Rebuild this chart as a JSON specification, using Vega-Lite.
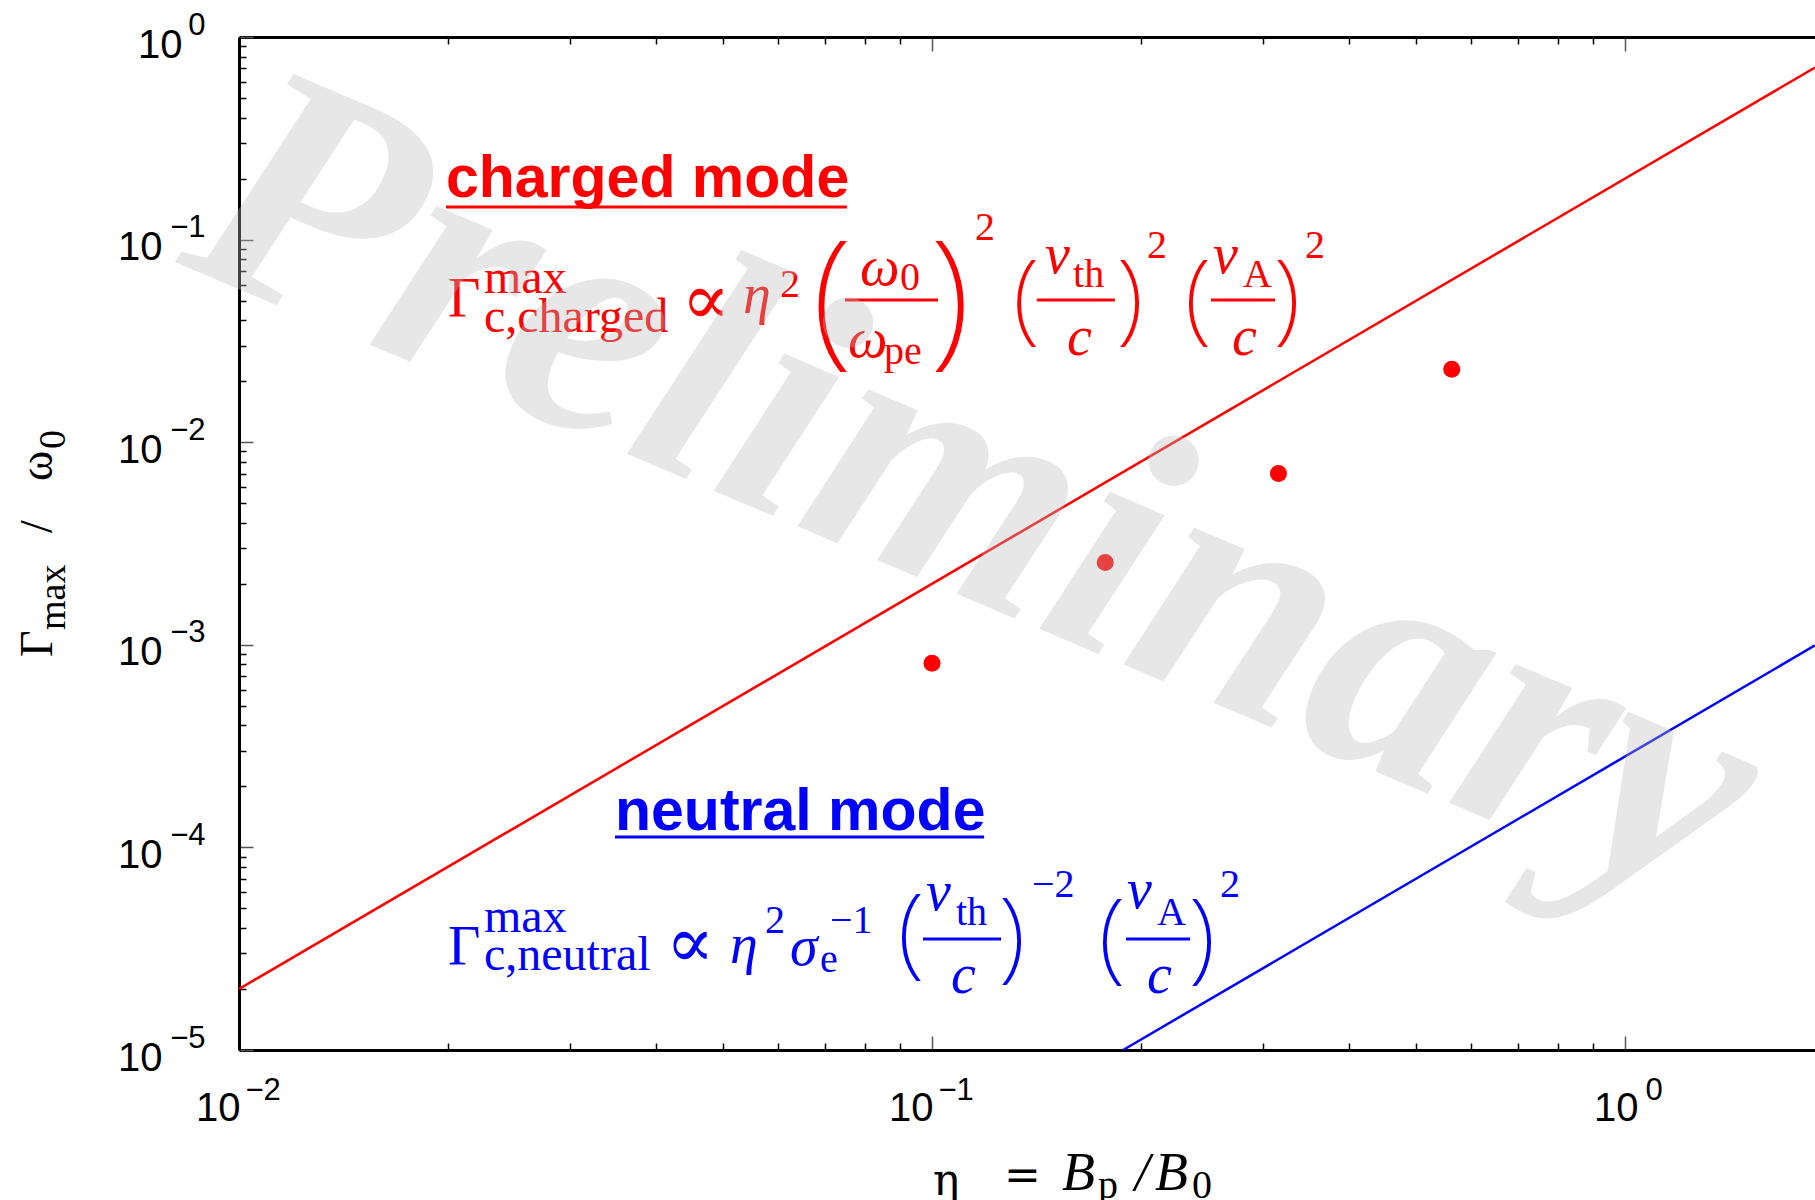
{
  "$schema": "https://vega.github.io/schema/vega-lite/v6.json",
  "width": 1576,
  "height": 1013,
  "autosize": {"type": "none"},
  "padding": {"left": 239, "top": 37, "right": 0, "bottom": 150},
  "background": "white",
  "config": {"view": {"stroke": null}},
  "resolve": {"axis": {"x": "independent", "y": "independent"}},
  "datasets": {
    "chargedLine": [{"eta": 0.01, "gamma": 0.00002}, {"eta": 1.88, "gamma": 0.707}],
    "neutralLine": [{"eta": 0.1887, "gamma": 0.00001}, {"eta": 1.88, "gamma": 0.000993}],
    "points": [
      {"eta": 0.1, "gamma": 0.00081},
      {"eta": 0.1778, "gamma": 0.00255},
      {"eta": 0.3162, "gamma": 0.0070},
      {"eta": 0.5623, "gamma": 0.0229}
    ],
    "underlines": [
      {"x": 0.01989, "x2": 0.07538, "y": 0.1448, "g": "charged"},
      {"x": 0.03488, "x2": 0.1189, "y": 0.0001125, "g": "neutral"}
    ],
    "bars": [
      {"x": 0.07489, "x2": 0.102, "y": 0.05033, "g": "charged"},
      {"x": 0.1417, "x2": 0.1836, "y": 0.05033, "g": "charged"},
      {"x": 0.2527, "x2": 0.3126, "y": 0.05033, "g": "charged"},
      {"x": 0.09705, "x2": 0.1258, "y": 0.00003531, "g": "neutral"},
      {"x": 0.1905, "x2": 0.2357, "y": 0.00003531, "g": "neutral"}
    ],
    "headings": [
      {"t": "charged mode", "x": 0.01989, "y": 0.1623, "g": "charged"},
      {"t": "neutral mode", "x": 0.03488, "y": 0.0001219, "g": "neutral"}
    ],
    "gammas": [
      {"t": "Γ", "x": 0.02002, "y": 0.0415, "g": "charged"},
      {"t": "Γ", "x": 0.02002, "y": 0.00002628, "g": "neutral"}
    ],
    "subsup": [
      {"t": "max", "x": 0.02257, "y": 0.05451, "g": "charged"},
      {"t": "c,charged", "x": 0.02257, "y": 0.03499, "g": "charged"},
      {"t": "max", "x": 0.02257, "y": 0.00003823, "g": "neutral"},
      {"t": "c,neutral", "x": 0.02257, "y": 0.00002483, "g": "neutral"}
    ],
    "small": [
      {"t": "2", "x": 0.06035, "y": 0.05207, "g": "charged"},
      {"t": "0", "x": 0.0899, "y": 0.05638, "g": "charged"},
      {"t": "pe", "x": 0.08524, "y": 0.02432, "g": "charged"},
      {"t": "2", "x": 0.1154, "y": 0.09954, "g": "charged"},
      {"t": "th", "x": 0.1598, "y": 0.05834, "g": "charged"},
      {"t": "2", "x": 0.2043, "y": 0.08111, "g": "charged"},
      {"t": "A", "x": 0.281, "y": 0.05834, "g": "charged"},
      {"t": "2", "x": 0.3453, "y": 0.08111, "g": "charged"},
      {"t": "2", "x": 0.05741, "y": 0.0000378, "g": "neutral"},
      {"t": "e", "x": 0.06894, "y": 0.00002427, "g": "neutral"},
      {"t": "−1", "x": 0.07124, "y": 0.0000378, "g": "neutral"},
      {"t": "th", "x": 0.1083, "y": 0.0000414, "g": "neutral"},
      {"t": "−2", "x": 0.1394, "y": 0.00005691, "g": "neutral"},
      {"t": "A", "x": 0.2112, "y": 0.0000414, "g": "neutral"},
      {"t": "2", "x": 0.2603, "y": 0.00005691, "g": "neutral"},
      {"t": "p", "x": 0.1736, "y": 0.00000186, "g": "axis"},
      {"t": "0", "x": 0.2372, "y": 0.00000186, "g": "axis"}
    ],
    "italic": [
      {"t": "η", "x": 0.05338, "y": 0.04342, "g": "charged"},
      {"t": "ω", "x": 0.0787, "y": 0.0597, "g": "charged"},
      {"t": "ω", "x": 0.07564, "y": 0.02634, "g": "charged"},
      {"t": "v", "x": 0.1456, "y": 0.06843, "g": "charged"},
      {"t": "c", "x": 0.1566, "y": 0.02694, "g": "charged"},
      {"t": "v", "x": 0.2543, "y": 0.06843, "g": "charged"},
      {"t": "c", "x": 0.271, "y": 0.02694, "g": "charged"},
      {"t": "η", "x": 0.0511, "y": 0.00002688, "g": "neutral"},
      {"t": "σ", "x": 0.06238, "y": 0.00002628, "g": "neutral"},
      {"t": "v", "x": 0.09802, "y": 0.00004909, "g": "neutral"},
      {"t": "c", "x": 0.1065, "y": 0.00001912, "g": "neutral"},
      {"t": "v", "x": 0.1912, "y": 0.00005022, "g": "neutral"},
      {"t": "c", "x": 0.2043, "y": 0.00001912, "g": "neutral"}
    ],
    "props": [
      {"t": "∝", "x": 0.04719, "y": 0.0492, "g": "charged"},
      {"t": "∝", "x": 0.04475, "y": 0.00003298, "g": "neutral"}
    ],
    "bigParens": [
      {"t": "(", "x": 0.07172, "y": 0.04892, "g": "charged"},
      {"t": ")", "x": 0.1062, "y": 0.04892, "g": "charged"}
    ],
    "parens": [
      {"t": "(", "x": 0.1367, "y": 0.05004, "g": "charged"},
      {"t": ")", "x": 0.1931, "y": 0.05004, "g": "charged"},
      {"t": "(", "x": 0.2419, "y": 0.05004, "g": "charged"},
      {"t": ")", "x": 0.3253, "y": 0.05004, "g": "charged"},
      {"t": "(", "x": 0.09326, "y": 0.00003695, "g": "neutral"},
      {"t": ")", "x": 0.1304, "y": 0.00003531, "g": "neutral"},
      {"t": "(", "x": 0.1818, "y": 0.0000349, "g": "neutral"},
      {"t": ")", "x": 0.2452, "y": 0.0000349, "g": "neutral"}
    ],
    "xtitleUp": [
      {"t": "η", "x": 0.1003, "y": 0.000001925, "g": "axis"},
      {"t": "=", "x": 0.127, "y": 0.000002037, "g": "axis"}
    ],
    "xtitleItalic": [
      {"t": "B", "x": 0.154, "y": 0.000002037, "g": "axis"},
      {"t": "/", "x": 0.1962, "y": 0.000002037, "g": "axis"},
      {"t": "B", "x": 0.2098, "y": 0.000002037, "g": "axis"}
    ],
    "ytitleBig": [
      {"t": "Γ", "x": 0.005373, "y": 0.0008706, "g": "axis"},
      {"t": "/", "x": 0.005373, "y": 0.003563, "g": "axis"},
      {"t": "ω", "x": 0.005373, "y": 0.006432, "g": "axis"}
    ],
    "ytitleSmall": [
      {"t": "max", "x": 0.005609, "y": 0.001183, "g": "axis"},
      {"t": "0", "x": 0.005609, "y": 0.009256, "g": "axis"}
    ],
    "watermark": [{"t": "Preliminary", "x": 0.008083, "y": 0.07752}]
  },
  "layer": [
    {
      "data": {"name": "chargedLine"},
      "mark": {"type": "line", "color": "#ff0000", "strokeWidth": 2.5},
      "encoding": {
        "x": {"field": "eta", "type": "quantitative", "scale": {"type": "log", "domain": [0.01, 1.88], "nice": false},
          "axis": {"orient": "bottom", "values": [0.01, 0.1, 1], "ticks": true, "tickSize": -14, "tickWidth": 1.5, "tickColor": "#555555", "labels": false, "domain": true, "domainColor": "#000000", "domainWidth": 3, "grid": false, "title": null}},
        "y": {"field": "gamma", "type": "quantitative", "scale": {"type": "log", "domain": [0.00001, 1], "nice": false},
          "axis": {"orient": "left", "values": [0.00001, 0.0001, 0.001, 0.01, 0.1, 1], "ticks": true, "tickSize": -14, "tickWidth": 1.5, "tickColor": "#555555", "labels": false, "domain": true, "domainColor": "#000000", "domainWidth": 3, "grid": false, "title": null}}
      }
    },
    {
      "data": {"name": "neutralLine"},
      "mark": {"type": "line", "color": "#0000ff", "strokeWidth": 2.5},
      "encoding": {
        "x": {"field": "eta", "type": "quantitative", "scale": {"type": "log", "domain": [0.01, 1.88], "nice": false},
          "axis": {"orient": "bottom", "values": [0.02, 0.03, 0.04, 0.05, 0.06, 0.07, 0.08, 0.09, 0.2, 0.3, 0.4, 0.5, 0.6, 0.7, 0.8, 0.9], "ticks": true, "tickSize": -7, "tickWidth": 1.5, "tickColor": "#000000", "labels": false, "domain": false, "grid": false, "title": null}},
        "y": {"field": "gamma", "type": "quantitative", "scale": {"type": "log", "domain": [0.00001, 1], "nice": false},
          "axis": {"orient": "left", "values": [0.00002, 0.00003, 0.00004, 0.00005, 0.00006, 0.00007, 0.00008, 0.00009, 0.0002, 0.0003, 0.0004, 0.0005, 0.0006, 0.0007, 0.0008, 0.0009, 0.002, 0.003, 0.004, 0.005, 0.006, 0.007, 0.008, 0.009, 0.02, 0.03, 0.04, 0.05, 0.06, 0.07, 0.08, 0.09, 0.2, 0.3, 0.4, 0.5, 0.6, 0.7, 0.8, 0.9], "ticks": true, "tickSize": -7, "tickWidth": 1.5, "tickColor": "#000000", "labels": false, "domain": false, "grid": false, "title": null}}
      }
    },
    {
      "data": {"name": "points"},
      "mark": {"type": "circle", "size": 290, "color": "#ff0000", "opacity": 1},
      "encoding": {
        "x": {"field": "eta", "type": "quantitative", "scale": {"type": "log", "domain": [0.01, 1.88], "nice": false},
          "axis": {"orient": "bottom", "values": [0.01, 0.1, 1], "ticks": false, "domain": false, "grid": false, "title": null, "labelExpr": "'10'", "labelFont": "Liberation Sans", "labelFontSize": 40, "labelColor": "#000000", "labelAlign": "right", "labelBaseline": "alphabetic", "labelPadding": 70, "labelOffset": {"condition": {"test": "datum.value > 0.5", "value": 13}, "value": 1}, "labelFlush": false, "labelOverlap": false, "labelBound": false}},
        "y": {"field": "gamma", "type": "quantitative", "scale": {"type": "log", "domain": [0.00001, 1], "nice": false},
          "axis": {"orient": "left", "values": [0.00001, 0.0001, 0.001, 0.01, 0.1, 1], "ticks": false, "domain": false, "grid": false, "title": null, "labelExpr": "'10'", "labelFont": "Liberation Sans", "labelFontSize": 40, "labelColor": "#000000", "labelAlign": "right", "labelBaseline": "alphabetic", "labelPadding": {"condition": {"test": "datum.value > 0.5", "value": 57}, "value": 77}, "labelOffset": 20, "labelFlush": false, "labelOverlap": false, "labelBound": false}}
      }
    },
    {
      "data": {"name": "underlines"},
      "mark": {"type": "rule", "strokeWidth": 3},
      "encoding": {
        "x": {"field": "x", "type": "quantitative", "scale": {"type": "log", "domain": [0.01, 1.88], "nice": false},
          "axis": {"orient": "bottom", "values": [0.01, 0.1, 1], "ticks": false, "domain": false, "grid": false, "title": null, "labelExpr": "datum.value >= 1 ? '0' : '−' + format(-log(datum.value)/LN10, '.0f')", "labelFont": "Liberation Sans", "labelFontSize": 31, "labelColor": "#000000", "labelAlign": "left", "labelBaseline": "alphabetic", "labelPadding": 49, "labelOffset": {"condition": {"test": "datum.value > 0.5", "value": 20}, "value": 6}, "labelFlush": false, "labelOverlap": false, "labelBound": false}},
        "x2": {"field": "x2"},
        "y": {"field": "y", "type": "quantitative", "scale": {"type": "log", "domain": [0.00001, 1], "nice": false},
          "axis": {"orient": "left", "values": [0.00001, 0.0001, 0.001, 0.01, 0.1, 1], "ticks": false, "domain": false, "grid": false, "title": null, "labelExpr": "datum.value >= 1 ? '0' : '−' + format(-log(datum.value)/LN10, '.0f')", "labelFont": "Liberation Sans", "labelFontSize": 31, "labelColor": "#000000", "labelAlign": "right", "labelBaseline": "alphabetic", "labelPadding": 34, "labelOffset": -3, "labelFlush": false, "labelOverlap": false, "labelBound": false}},
        "color": {"field": "g", "type": "nominal", "scale": {"domain": ["charged", "neutral", "axis"], "range": ["#ff0000", "#0000ff", "#000000"]}, "legend": null}
      }
    },
    {
      "data": {"name": "bars"},
      "mark": {"type": "rule", "strokeWidth": 3},
      "encoding": {
        "x": {"field": "x", "type": "quantitative", "scale": {"type": "log", "domain": [0.01, 1.88], "nice": false},
          "axis": {"orient": "top", "values": [0.01, 0.1, 1], "ticks": true, "tickSize": -14, "tickWidth": 1.5, "tickColor": "#555555", "labels": false, "domain": true, "domainColor": "#000000", "domainWidth": 3, "grid": false, "title": null}},
        "x2": {"field": "x2"},
        "y": {"field": "y", "type": "quantitative", "scale": {"type": "log", "domain": [0.00001, 1], "nice": false}, "axis": null},
        "color": {"field": "g", "type": "nominal", "scale": {"domain": ["charged", "neutral", "axis"], "range": ["#ff0000", "#0000ff", "#000000"]}, "legend": null}
      }
    },
    {
      "data": {"name": "headings"},
      "mark": {"type": "text", "font": "Liberation Sans", "fontWeight": "bold", "fontSize": 59, "align": "left", "baseline": "alphabetic"},
      "encoding": {
        "x": {"field": "x", "type": "quantitative", "scale": {"type": "log", "domain": [0.01, 1.88], "nice": false},
          "axis": {"orient": "top", "values": [0.02, 0.03, 0.04, 0.05, 0.06, 0.07, 0.08, 0.09, 0.2, 0.3, 0.4, 0.5, 0.6, 0.7, 0.8, 0.9], "ticks": true, "tickSize": -7, "tickWidth": 1.5, "tickColor": "#000000", "labels": false, "domain": false, "grid": false, "title": null}},
        "y": {"field": "y", "type": "quantitative", "scale": {"type": "log", "domain": [0.00001, 1], "nice": false}, "axis": null},
        "text": {"field": "t"},
        "color": {"field": "g", "type": "nominal", "scale": {"domain": ["charged", "neutral", "axis"], "range": ["#ff0000", "#0000ff", "#000000"]}, "legend": null}
      }
    },
    {
      "data": {"name": "gammas"},
      "mark": {"type": "text", "font": "Liberation Serif", "fontSize": 56, "align": "left", "baseline": "alphabetic"},
      "encoding": {
        "x": {"field": "x", "type": "quantitative", "scale": {"type": "log", "domain": [0.01, 1.88], "nice": false}, "axis": null},
        "y": {"field": "y", "type": "quantitative", "scale": {"type": "log", "domain": [0.00001, 1], "nice": false}, "axis": null},
        "text": {"field": "t"},
        "color": {"field": "g", "type": "nominal", "scale": {"domain": ["charged", "neutral", "axis"], "range": ["#ff0000", "#0000ff", "#000000"]}, "legend": null}
      }
    },
    {
      "data": {"name": "subsup"},
      "mark": {"type": "text", "font": "Liberation Serif", "fontSize": 48, "align": "left", "baseline": "alphabetic"},
      "encoding": {
        "x": {"field": "x", "type": "quantitative", "scale": {"type": "log", "domain": [0.01, 1.88], "nice": false}, "axis": null},
        "y": {"field": "y", "type": "quantitative", "scale": {"type": "log", "domain": [0.00001, 1], "nice": false}, "axis": null},
        "text": {"field": "t"},
        "color": {"field": "g", "type": "nominal", "scale": {"domain": ["charged", "neutral", "axis"], "range": ["#ff0000", "#0000ff", "#000000"]}, "legend": null}
      }
    },
    {
      "data": {"name": "small"},
      "mark": {"type": "text", "font": "Liberation Serif", "fontSize": 40, "align": "left", "baseline": "alphabetic"},
      "encoding": {
        "x": {"field": "x", "type": "quantitative", "scale": {"type": "log", "domain": [0.01, 1.88], "nice": false}, "axis": null},
        "y": {"field": "y", "type": "quantitative", "scale": {"type": "log", "domain": [0.00001, 1], "nice": false}, "axis": null},
        "text": {"field": "t"},
        "color": {"field": "g", "type": "nominal", "scale": {"domain": ["charged", "neutral", "axis"], "range": ["#ff0000", "#0000ff", "#000000"]}, "legend": null}
      }
    },
    {
      "data": {"name": "italic"},
      "mark": {"type": "text", "font": "Liberation Serif", "fontStyle": "italic", "fontSize": 56, "align": "left", "baseline": "alphabetic"},
      "encoding": {
        "x": {"field": "x", "type": "quantitative", "scale": {"type": "log", "domain": [0.01, 1.88], "nice": false}, "axis": null},
        "y": {"field": "y", "type": "quantitative", "scale": {"type": "log", "domain": [0.00001, 1], "nice": false}, "axis": null},
        "text": {"field": "t"},
        "color": {"field": "g", "type": "nominal", "scale": {"domain": ["charged", "neutral", "axis"], "range": ["#ff0000", "#0000ff", "#000000"]}, "legend": null}
      }
    },
    {
      "data": {"name": "props"},
      "mark": {"type": "text", "font": "DejaVu Serif", "fontSize": 72, "align": "center", "baseline": "middle"},
      "encoding": {
        "x": {"field": "x", "type": "quantitative", "scale": {"type": "log", "domain": [0.01, 1.88], "nice": false}, "axis": null},
        "y": {"field": "y", "type": "quantitative", "scale": {"type": "log", "domain": [0.00001, 1], "nice": false}, "axis": null},
        "text": {"field": "t"},
        "color": {"field": "g", "type": "nominal", "scale": {"domain": ["charged", "neutral", "axis"], "range": ["#ff0000", "#0000ff", "#000000"]}, "legend": null}
      }
    },
    {
      "data": {"name": "bigParens"},
      "mark": {"type": "text", "font": "Noto Sans", "fontWeight": 200, "fontSize": 150, "align": "center", "baseline": "middle"},
      "encoding": {
        "x": {"field": "x", "type": "quantitative", "scale": {"type": "log", "domain": [0.01, 1.88], "nice": false}, "axis": null},
        "y": {"field": "y", "type": "quantitative", "scale": {"type": "log", "domain": [0.00001, 1], "nice": false}, "axis": null},
        "text": {"field": "t"},
        "color": {"field": "g", "type": "nominal", "scale": {"domain": ["charged", "neutral", "axis"], "range": ["#ff0000", "#0000ff", "#000000"]}, "legend": null}
      }
    },
    {
      "data": {"name": "parens"},
      "mark": {"type": "text", "font": "Noto Sans", "fontWeight": 200, "fontSize": 100, "align": "center", "baseline": "middle"},
      "encoding": {
        "x": {"field": "x", "type": "quantitative", "scale": {"type": "log", "domain": [0.01, 1.88], "nice": false}, "axis": null},
        "y": {"field": "y", "type": "quantitative", "scale": {"type": "log", "domain": [0.00001, 1], "nice": false}, "axis": null},
        "text": {"field": "t"},
        "color": {"field": "g", "type": "nominal", "scale": {"domain": ["charged", "neutral", "axis"], "range": ["#ff0000", "#0000ff", "#000000"]}, "legend": null}
      }
    },
    {
      "data": {"name": "xtitleUp"},
      "mark": {"type": "text", "font": "DejaVu Serif", "fontSize": 44, "align": "left", "baseline": "alphabetic", "color": "#000000"},
      "encoding": {
        "x": {"field": "x", "type": "quantitative", "scale": {"type": "log", "domain": [0.01, 1.88], "nice": false}, "axis": null},
        "y": {"field": "y", "type": "quantitative", "scale": {"type": "log", "domain": [0.00001, 1], "nice": false}, "axis": null},
        "text": {"field": "t"}
      }
    },
    {
      "data": {"name": "xtitleItalic"},
      "mark": {"type": "text", "font": "Liberation Serif", "fontStyle": "italic", "fontSize": 54, "align": "left", "baseline": "alphabetic", "color": "#000000"},
      "encoding": {
        "x": {"field": "x", "type": "quantitative", "scale": {"type": "log", "domain": [0.01, 1.88], "nice": false}, "axis": null},
        "y": {"field": "y", "type": "quantitative", "scale": {"type": "log", "domain": [0.00001, 1], "nice": false}, "axis": null},
        "text": {"field": "t"}
      }
    },
    {
      "data": {"name": "ytitleBig"},
      "mark": {"type": "text", "font": "Liberation Serif", "fontSize": 46, "angle": 270, "align": "left", "baseline": "alphabetic", "color": "#000000"},
      "encoding": {
        "x": {"field": "x", "type": "quantitative", "scale": {"type": "log", "domain": [0.01, 1.88], "nice": false}, "axis": null},
        "y": {"field": "y", "type": "quantitative", "scale": {"type": "log", "domain": [0.00001, 1], "nice": false}, "axis": null},
        "text": {"field": "t"}
      }
    },
    {
      "data": {"name": "ytitleSmall"},
      "mark": {"type": "text", "font": "Liberation Serif", "fontSize": 38, "angle": 270, "align": "left", "baseline": "alphabetic", "color": "#000000"},
      "encoding": {
        "x": {"field": "x", "type": "quantitative", "scale": {"type": "log", "domain": [0.01, 1.88], "nice": false}, "axis": null},
        "y": {"field": "y", "type": "quantitative", "scale": {"type": "log", "domain": [0.00001, 1], "nice": false}, "axis": null},
        "text": {"field": "t"}
      }
    },
    {
      "data": {"name": "watermark"},
      "mark": {"type": "text", "font": "Liberation Serif", "fontStyle": "italic", "fontWeight": "bold", "fontSize": 335, "angle": 23, "align": "left", "baseline": "alphabetic", "color": "#bdbdbd", "opacity": 0.35},
      "encoding": {
        "x": {"field": "x", "type": "quantitative", "scale": {"type": "log", "domain": [0.01, 1.88], "nice": false}, "axis": null},
        "y": {"field": "y", "type": "quantitative", "scale": {"type": "log", "domain": [0.00001, 1], "nice": false}, "axis": null},
        "text": {"field": "t"}
      }
    }
  ]
}
